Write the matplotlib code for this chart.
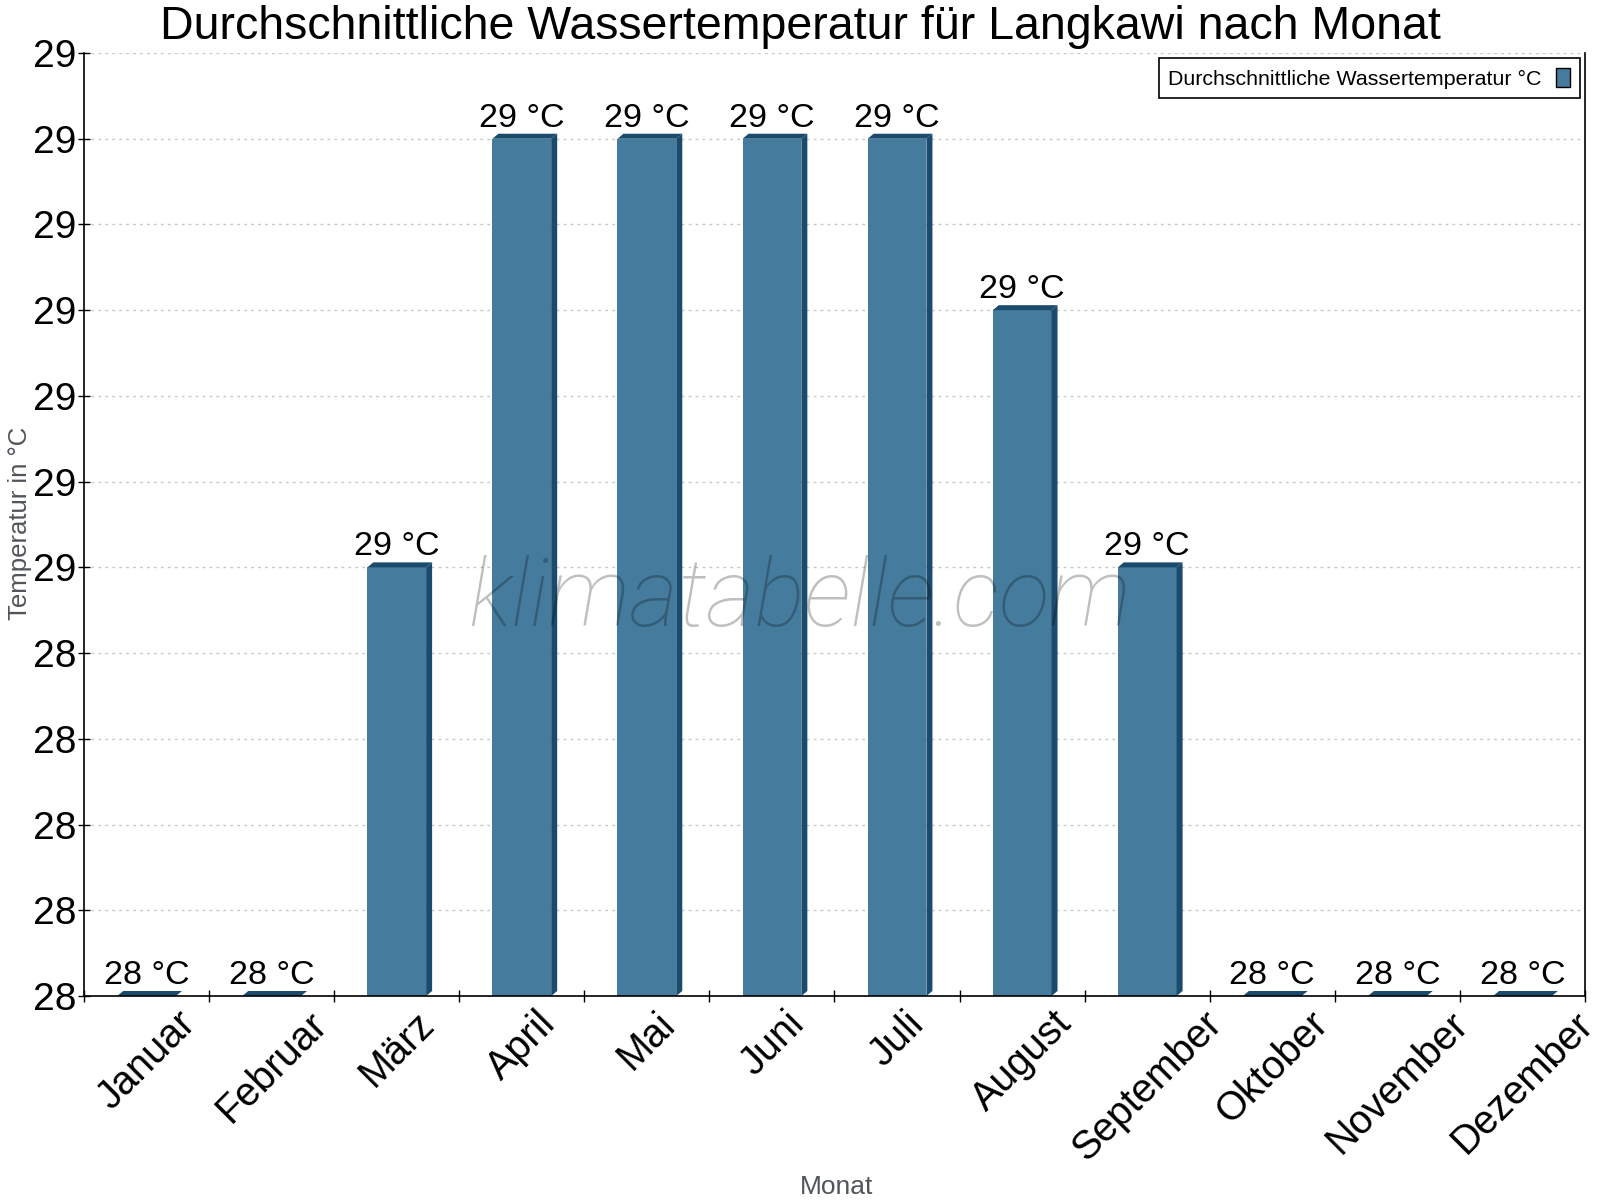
import math
import numpy as np
import matplotlib
matplotlib.use('Agg')
from matplotlib import pyplot as plt

plt.rcParams['font.family'] = ['Liberation Sans', 'DejaVu Sans']

months = ['Januar', 'Februar', 'März', 'April', 'Mai', 'Juni', 'Juli',
          'August', 'September', 'Oktober', 'November', 'Dezember']
water_temp = [28.0, 28.0, 28.5, 29.0, 29.0, 29.0, 29.0, 28.8, 28.5, 28.0, 28.0, 28.0]
y_ticks = [28.0, 28.1, 28.2, 28.3, 28.4, 28.5, 28.6, 28.7, 28.8, 28.9, 29.0, 29.1]

FRONT = '#457b9d'
DARK = '#1b4b6c'
Y_MIN, Y_MAX = 28.0, 29.1


def round_half_up(v):
    return int(math.floor(round(v, 3) + 0.5))


fig = plt.figure(figsize=(16, 12), dpi=100)
ax = fig.add_axes([84 / 1600, 1 - 996 / 1200, (1585 - 84) / 1600, (996 - 53) / 1200])

x = np.arange(len(months))
width = 0.47
# 3d offset (about 6px right, 5px up)
dx = 6 / 125.1
dy = 5 * (Y_MAX - Y_MIN) / 943

heights = [v - Y_MIN for v in water_temp]
ax.bar(x, heights, width, bottom=Y_MIN, color=FRONT, zorder=3,
       label='Durchschnittliche Wassertemperatur °C')

for xi, v in zip(x, water_temp):
    x0 = xi - width / 2
    x1 = xi + width / 2
    ax.fill([x1, x1 + dx, x1 + dx, x1], [Y_MIN, Y_MIN + dy, v + dy, v],
            color=DARK, zorder=3, lw=0)
    ax.fill([x0, x0 + dx, x1 + dx, x1], [v, v + dy, v + dy, v],
            color=DARK, zorder=3, lw=0)
    ax.text(xi, v + dy, '%d °C' % round_half_up(v), ha='center', va='bottom',
            fontsize=24.5, color='black', zorder=5)

ax.set_xlim(-0.5, len(months) - 0.5)
ax.set_ylim(Y_MIN, Y_MAX)

ax.set_yticks(y_ticks)
ax.set_yticklabels([str(round_half_up(t)) for t in y_ticks], fontsize=28)
ax.tick_params(axis='y', direction='inout', length=8, width=1, pad=1.5)

ax.set_xticks(np.arange(len(months) + 1) - 0.5)
ax.set_xticklabels([])
ax.tick_params(axis='x', which='major', direction='inout', length=8, width=1)
ax.set_xticks(x, minor=True)
ax.set_xticklabels(months, minor=True, rotation=45, ha='center', va='top', fontsize=28.5)
ax.tick_params(axis='x', which='minor', length=0, pad=6)

ax.grid(axis='y', color='#c8c8c8', linestyle=(0, (2, 3)), linewidth=1, zorder=0)
ax.spines['top'].set_visible(False)
for s in ['left', 'bottom', 'right']:
    ax.spines[s].set_linewidth(1.2)
    ax.spines[s].set_zorder(4)

fig.text(20.5 / 1600, 1 - 523 / 1200, 'Temperatur in °C', rotation=90,
         ha='center', va='center', fontsize=18.5, color='#50555b')
fig.text(837 / 1600, 1 - 1187 / 1200, 'Monat', ha='center', va='center',
         fontsize=19, color='#50555b')

leg = ax.legend(loc='upper right', bbox_to_anchor=(1 - 5 / 1501, 1 - 5 / 943),
                borderaxespad=0, fontsize=15.4, markerfirst=False,
                handlelength=0.65, handleheight=1.0, handletextpad=0.7,
                borderpad=0.45, fancybox=False, framealpha=1, edgecolor='black')
leg.get_frame().set_linewidth(1.2)
leg.legend_handles[0].set_edgecolor('black')
leg.legend_handles[0].set_linewidth(1)

fig.text(0.5, 1 - 39 / 1200, 'Durchschnittliche Wassertemperatur für Langkawi nach Monat',
         ha='center', va='baseline', fontsize=33.5)

fig.text(0.5, 1 - 626 / 1200, 'klimatabelle.com', ha='center', va='baseline',
         fontsize=67.5, family=['Roboto', 'DejaVu Sans'], fontweight='light',
         style='italic', color='black', alpha=0.25, zorder=10)

fig.savefig('out.png', dpi=100)
